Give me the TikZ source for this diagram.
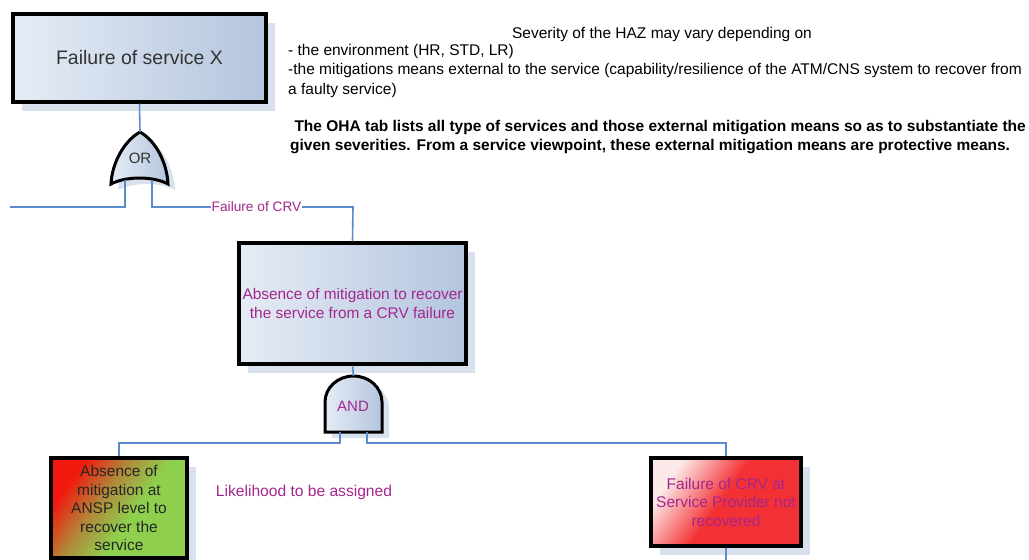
\documentclass[tikz,border=0pt]{standalone}
\usepackage{fontspec}
\setmainfont{Liberation Sans}
\usetikzlibrary{shadows}
\definecolor{boxL}{HTML}{E6ECF5}
\definecolor{boxR}{HTML}{B3C5DE}
\definecolor{shadowblue}{HTML}{D8E1ED}
\definecolor{wireblue}{HTML}{5A8BCB}
\definecolor{vpurple}{HTML}{A3268F}
\definecolor{ansRed}{HTML}{F2180E}
\definecolor{ansMid}{HTML}{B08A3A}
\definecolor{ansGreen}{HTML}{8ED04E}
\definecolor{crvRed}{HTML}{F33134}
\definecolor{crvLight}{HTML}{FCEAEA}
\pgfdeclarehorizontalshading{anspshade}{100bp}{color(0bp)=(ansRed); color(27bp)=(ansRed); color(42bp)=(ansMid); color(56bp)=(ansGreen); color(100bp)=(ansGreen)}
\pgfdeclarehorizontalshading{crvshade}{100bp}{color(0bp)=(crvLight); color(26bp)=(crvLight); color(48bp)=(crvRed); color(100bp)=(crvRed)}
\tikzset{
  evt/.style ={draw, line width=3.2pt, align=center, inner sep=2pt, left color=boxL, right color=boxR,
               general shadow={fill=shadowblue, shadow xshift=9pt, shadow yshift=-9pt}},
  ansp/.style={evt, shading=anspshade, shading angle=-35},
  crv/.style ={evt, shading=crvshade, shading angle=-35},
  gate/.style={draw, line width=3pt, left color=boxL, right color=boxR},
  gshd/.style={fill=shadowblue},
  wire/.style={draw=wireblue, line width=1.6pt},
  lbl/.style ={font=\fontsize{13.7}{15}\selectfont, text=vpurple},
  note/.style={font=\fontsize{15.5}{19.5}\selectfont, align=left, inner sep=0pt},
}
\begin{document}
\begin{tikzpicture}[x=1pt, y=-1pt]
  \useasboundingbox (0,0) rectangle (1029,560);
  \clip (0,0) rectangle (1029,560);
  % events
  \node[evt, minimum width=253pt, minimum height=88pt, text=black!80,
        font=\fontsize{19.5}{22}\selectfont] (topevt) at (139.5,58) {Failure of service X};
  \node[evt, minimum width=227pt, minimum height=121pt, text=vpurple,
        font=\fontsize{15.4}{19}\selectfont] (midevt) at (352.5,303.5)
        {Absence of mitigation to recover\\the service from a CRV failure};
  \node[ansp, minimum width=136pt, minimum height=100pt, text=black!85,
        font=\fontsize{15.5}{18.5}\selectfont] (anspevt) at (119,508)
        {Absence of\\mitigation at\\ANSP level to\\recover the\\service};
  \node[crv, minimum width=150pt, minimum height=88pt, text=vpurple,
        font=\fontsize{15.5}{18.5}\selectfont] (crvevt) at (726,502)
        {Failure of CRV at\\Service Provider not\\recovered};
  % OR gate
  \fill[gshd, shift={(7,6)}] (140,132) .. controls (124,141) and (112,163) .. (111,184)
        .. controls (126,176) and (153,176) .. (168,184) .. controls (167,163) and (156,141) .. (140,132) -- cycle;
  \path[gate] (140,132) .. controls (124,141) and (112,163) .. (111,184)
        .. controls (126,176) and (153,176) .. (168,184) .. controls (167,163) and (156,141) .. (140,132) -- cycle;
  \node[font=\fontsize{15}{17}\selectfont, text=black!80] (orgate) at (140,158) {OR};
  \coordinate (orTop) at (140,132);
  \coordinate (orL) at (125,180);
  \coordinate (orR) at (152,180);
  % AND gate
  \fill[gshd, shift={(7,6)}] (325,432) -- (325,402) arc[x radius=28.5, y radius=26, start angle=180, end angle=360] -- (382,432) -- cycle;
  \path[gate] (325,432) -- (325,402) arc[x radius=28.5, y radius=26, start angle=180, end angle=360] -- (382,432) -- cycle;
  \node[font=\fontsize{15}{17}\selectfont, text=vpurple] (andgate) at (353,406) {AND};
  \coordinate (andTop) at (353.5,376);
  \coordinate (andL) at (340,432);
  \coordinate (andR) at (367,432);
  % free ends
  \coordinate (leftend) at (10,207);
  \coordinate (crvjoin) at (353,207);
  \coordinate (bottomend) at (726,560);
  % connectors
  \draw[wire] (topevt.south) -- (orTop);
  \draw[wire] (orL) |- (leftend);
  \draw[wire] (orR) |- node[lbl, fill=white, inner sep=1pt, pos=0.76]{Failure of CRV} (crvjoin) -- (midevt.north);
  \draw[wire] (midevt.south) -- (andTop);
  \draw[wire] (andL) -- ++(0,11) -| (anspevt.north);
  \draw[wire] (andR) -- ++(0,11) -| (crvevt.north);
  \draw[wire] (crvevt.south) -- (bottomend);
  % notes
  \node[lbl, font=\fontsize{15.6}{17}\selectfont] (likely) at (304,492) {Likelihood to be assigned};
  \node[note, anchor=center] (sevhead) at (662,34) {Severity of the HAZ may vary depending on};
  \node[note, anchor=north west] (sevlist) at (288,44)
    {- the environment (HR, STD, LR)\\
     -the mitigations means external to the service (capability/resilience of the ATM/CNS system to recover from\\
     a faulty service)};
  \node[note, anchor=north west, font=\bfseries\fontsize{15.5}{19.5}\selectfont] (ohanote) at (290,120)
    {\ The OHA tab lists all type of services and those external mitigation means so as to substantiate the\\
     given severities. From a service viewpoint, these external mitigation means are protective means.};
\end{tikzpicture}
\end{document}
